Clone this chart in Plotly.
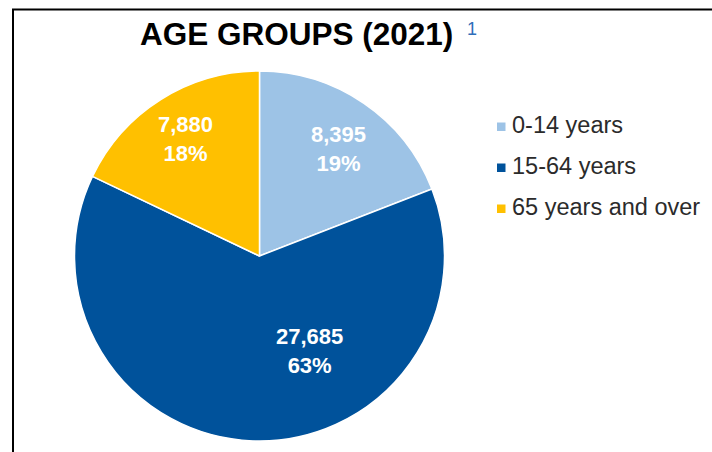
import math
import plotly.graph_objects as go

# Population by age group, 2021
age_groups = ["0-14 years", "15-64 years", "65 years and over"]
population = [8395, 27685, 7880]
slice_colors = ["#9DC3E6", "#00529B", "#FFC000"]

# Label placement inside each slice: fraction of the radius, and an
# angular nudge (degrees, clockwise) away from the slice bisector
label_radius = [0.72, 0.58, 0.75]
label_nudge = [2, -30, 0]

W, H = 712, 452
FONT = "Liberation Sans, Arial, sans-serif"

# Pie geometry in pixels
CX, CY, R = 259.5, 256, 185


def px_x(x):
    return x / W


def px_y(y):
    return 1 - y / H


fig = go.Figure()

fig.add_trace(go.Pie(
    labels=age_groups,
    values=population,
    sort=False,
    direction="clockwise",
    rotation=0,
    marker=dict(colors=slice_colors, line=dict(color="white", width=1.5)),
    textinfo="none",
    hoverinfo="label+value+percent",
    showlegend=False,
    domain=dict(x=[px_x(CX - R), px_x(CX + R)], y=[px_y(CY + R), px_y(CY - R)]),
))

# Value and share labels, placed along each slice's bisector
total = sum(population)
start = 0.0
for value, rf, nudge in zip(population, label_radius, label_nudge):
    sweep = 360.0 * value / total
    ang = math.radians(start + sweep / 2 + nudge)
    lx = CX + rf * R * math.sin(ang)
    ly = CY - rf * R * math.cos(ang)
    share = round(100 * value / total)
    fig.add_annotation(
        text=f"<b>{value:,}<br>{share}%</b>",
        x=px_x(lx), y=px_y(ly), xref="paper", yref="paper",
        xanchor="center", yanchor="middle", showarrow=False, align="center",
        font=dict(family=FONT, size=22, color="white"),
    )
    start += sweep

# Title with a footnote marker
fig.add_annotation(
    text="<b>AGE GROUPS (2021)</b>",
    x=px_x(138), y=px_y(34), xref="paper", yref="paper",
    xanchor="left", yanchor="middle", showarrow=False,
    font=dict(family=FONT, size=31.5, color="#000000"),
)
fig.add_annotation(
    text="1",
    x=px_x(465), y=px_y(28.5), xref="paper", yref="paper",
    xanchor="left", yanchor="middle", showarrow=False,
    font=dict(family=FONT, size=18, color="#2F6EBA"),
)

# Legend: small square swatches with category names
legend_top, legend_step = 125, 41
for i, (name, color) in enumerate(zip(age_groups, slice_colors)):
    yc = legend_top + i * legend_step
    fig.add_shape(
        type="rect", xref="paper", yref="paper",
        x0=px_x(497), x1=px_x(505.5), y0=px_y(yc - 2.5), y1=px_y(yc + 6),
        fillcolor=color, line=dict(width=0),
    )
    fig.add_annotation(
        text=name, x=px_x(510), y=px_y(yc), xref="paper", yref="paper",
        xanchor="left", yanchor="middle", showarrow=False,
        font=dict(family=FONT, size=23.5, color="#2B2B2B"),
    )

# Frame along the top and left edges
fig.add_shape(
    type="path", xref="paper", yref="paper",
    path=f"M {px_x(13)} {px_y(452)} L {px_x(13)} {px_y(9.5)} L {px_x(712)} {px_y(9.5)}",
    line=dict(color="black", width=2),
)

fig.update_layout(
    width=W, height=H,
    margin=dict(l=0, r=0, t=0, b=0),
    paper_bgcolor="white",
    plot_bgcolor="white",
)

fig.write_html("out.html")
